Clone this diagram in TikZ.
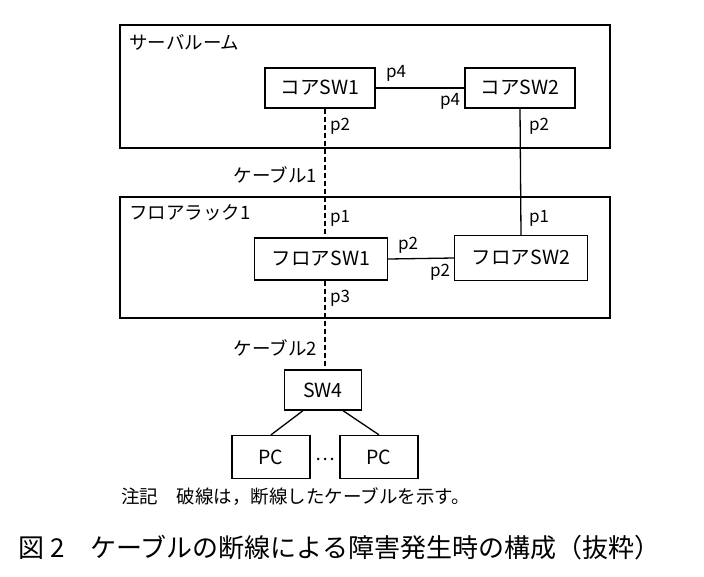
\documentclass[tikz,border=0pt]{standalone}
\usepackage{fontspec}
\setmainfont{Noto Sans CJK JP}
\begin{document}
\begin{tikzpicture}[x=1pt,y=-1pt,
  box/.style={draw,line width=1.3pt,inner sep=0pt},
  dev/.style={draw,line width=1.3pt,minimum height=40pt,inner sep=1pt,font=\fontsize{19.5}{21}\selectfont},
  lbl/.style={font=\fontsize{18.5}{20}\selectfont,inner sep=1pt},
  port/.style={font=\fontsize{17}{19}\selectfont,inner sep=1pt},
  ln/.style={line width=1.3pt},
  dl/.style={line width=1.8pt,dash pattern=on 5pt off 3pt}]
\useasboundingbox (0,0) rectangle (704,576);
\draw[box] (120,25) rectangle (610,148);
\node[lbl,anchor=west] (sr) at (128,42) {サーバルーム};
\draw[box] (120,197) rectangle (610,318);
\node[lbl,anchor=west] (fr) at (128,213) {フロアラック1};
\node[dev,minimum width=110pt] (c1) at (320,88) {コアSW1};
\node[dev,minimum width=110pt] (c2) at (520,88) {コアSW2};
\node[dev,minimum width=133pt,minimum height=42pt] (f1) at (321,259) {フロアSW1};
\node[dev,minimum width=133pt,minimum height=45pt] (f2) at (521,258) {フロアSW2};
\node[dev,minimum width=77pt] (s4) at (323,390) {SW4};
\node[dev,minimum width=78pt,minimum height=43pt] (pc1) at (271,457) {PC};
\node[dev,minimum width=78pt,minimum height=43pt] (pc2) at (379,457) {PC};
\node[lbl] (dots) at (325,459) {⋯};
\draw[ln] (c1.east) -- (c2.west);
\draw[ln] (f1.east) -- (f2.west);
\draw[ln] (c2.south) -- (f2.north);
\draw[dl] (c1.south -| 325,0) -- (f1.north -| 325,0);
\draw[dl] (f1.south -| 325,0) -- (s4.north -| 325,0);
\draw[ln] ([xshift=-20pt]s4.south) -- (pc1.north);
\draw[ln] ([xshift=20pt]s4.south) -- (pc2.north);
\node[port] (a) at (396,73) {p4};
\node[port] (b) at (450,101) {p4};
\node[port] (c) at (340,126) {p2};
\node[port] (d) at (539,126) {p2};
\node[port] (e) at (340,218) {p1};
\node[port] (f) at (539,218) {p1};
\node[port] (g) at (408,245) {p2};
\node[port] (h) at (440,272) {p2};
\node[port] (i) at (340,298) {p3};
\node[lbl,anchor=east] (k1) at (318,175) {ケーブル1};
\node[lbl,anchor=east] (k2) at (318,348) {ケーブル2};
\node[lbl,anchor=west] (note) at (120,497) {注記\hspace{1em}破線は，断線したケーブルを示す。};
\node[anchor=west,inner sep=0pt,font=\fontsize{26}{28}\selectfont] (cap) at (18,548) {図 2\hspace{1em}ケーブルの断線による障害発生時の構成（抜粋）};
\end{tikzpicture}
\end{document}
